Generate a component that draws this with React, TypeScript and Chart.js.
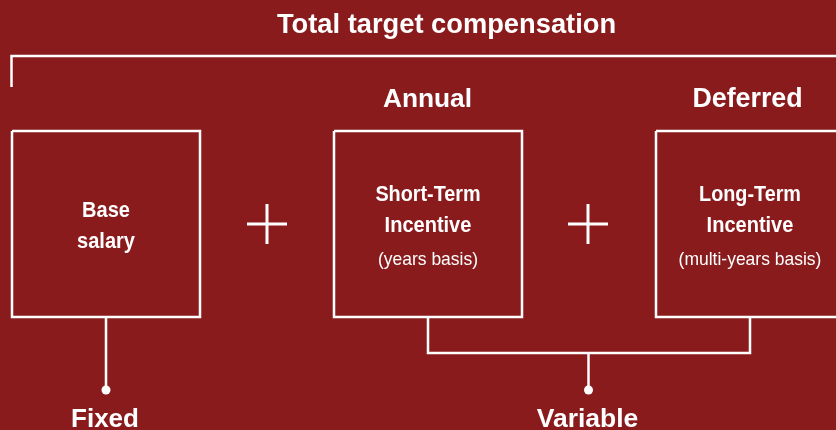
import React, { useEffect, useRef } from "react";
import { Chart, registerables } from "chart.js";

Chart.register(...registerables);

// ---- content ----
const titleText = "Total target compensation";
const groupLabels = ["Annual", "Deferred"];
const boxTitles = [
  ["Base", "salary"],
  ["Short-Term", "Incentive"],
  ["Long-Term", "Incentive"],
];
const boxSubtitles = ["", "(years basis)", "(multi-years basis)"];
const bottomLabels = ["Fixed", "Variable"];

// ---- geometry (diagram layout in scale units) ----
const W = 836;
const H = 430;
const BG = "#8a1b1d";
const FG = "#ffffff";
const boxLeft = [12, 334, 656];
const boxWidth = 188;
const boxTop = 131;
const boxBottom = 317;
const plusX = [267, 588];
const plusY = 224;
const bracketY = 56;
const bracketX = 11.5;
const bracketDrop = 87;
const branchY = 353;
const dotY = 390;
const variableX = 588.5;
const FONT = '"Liberation Sans", Arial, Helvetica, sans-serif';

const boxCenter = (i: number) => boxLeft[i] + boxWidth / 2;

const lineDs = (data: { x: number; y: number }[]) => ({
  data,
  showLine: true,
  borderColor: FG,
  borderWidth: 2.5,
  pointRadius: 0,
  fill: false,
  tension: 0,
  clip: false,
  borderJoinStyle: "miter" as const,
  borderCapStyle: "butt" as const,
});

const textPlugin = {
  id: "diagramText",
  beforeDraw(chart: any) {
    const { ctx } = chart;
    ctx.save();
    ctx.fillStyle = BG;
    ctx.fillRect(0, 0, chart.width, chart.height);
    ctx.restore();
  },
  afterDatasetsDraw(chart: any) {
    const { ctx } = chart;
    const xs = chart.scales.x;
    const ys = chart.scales.y;
    const put = (
      t: string,
      x: number,
      y: number,
      size: number,
      bold: boolean,
      sx = 1
    ) => {
      ctx.save();
      ctx.translate(xs.getPixelForValue(x), ys.getPixelForValue(y));
      ctx.scale(sx, 1);
      ctx.font = `${bold ? "bold " : ""}${size}px ${FONT}`;
      ctx.fillStyle = FG;
      ctx.textAlign = "center";
      ctx.textBaseline = "alphabetic";
      ctx.fillText(t, 0, 0);
      ctx.restore();
    };
    put(titleText, 446.5, 33, 27.3, true);
    put(groupLabels[0], 427.5, 106.5, 26.3, true);
    put(groupLabels[1], 747.5, 106.5, 26.8, true);
    // box 1
    put(boxTitles[0][0], boxCenter(0), 217, 22, true, 0.91);
    put(boxTitles[0][1], boxCenter(0), 248, 22, true, 0.91);
    for (let i = 1; i < 3; i++) {
      put(boxTitles[i][0], boxCenter(i), 201, 22, true, 0.9);
      put(boxTitles[i][1], boxCenter(i), 232, 22, true, 0.91);
      put(boxSubtitles[i], boxCenter(i), 265, 19, false, 0.92);
    }
    put(bottomLabels[0], 105, 427, 26, true);
    put(bottomLabels[1], 587.5, 427, 26.5, true);
  },
};

export default function App() {
  const ref = useRef<HTMLCanvasElement>(null);

  useEffect(() => {
    if (!ref.current) return;
    const boxes = boxLeft.map((l) =>
      lineDs([
        { x: l, y: boxTop },
        { x: l + boxWidth, y: boxTop },
        { x: l + boxWidth, y: boxBottom },
        { x: l, y: boxBottom },
        { x: l, y: boxTop },
      ])
    );
    const bracket = lineDs([
      { x: bracketX, y: bracketDrop },
      { x: bracketX, y: bracketY },
      { x: W + 5, y: bracketY },
    ]);
    const fixedLine = lineDs([
      { x: boxCenter(0), y: boxBottom },
      { x: boxCenter(0), y: dotY },
    ]);
    const branch = lineDs([
      { x: boxCenter(1), y: boxBottom },
      { x: boxCenter(1), y: branchY },
      { x: boxCenter(2), y: branchY },
      { x: boxCenter(2), y: boxBottom },
    ]);
    const variableLine = lineDs([
      { x: variableX, y: branchY },
      { x: variableX, y: dotY },
    ]);
    const dots = {
      data: [
        { x: boxCenter(0), y: dotY },
        { x: variableX, y: dotY },
      ],
      showLine: false,
      clip: false,
      pointRadius: 4.5,
      pointBackgroundColor: FG,
      pointBorderColor: FG,
      pointBorderWidth: 0,
    };
    const plus = {
      data: plusX.map((x) => ({ x, y: plusY })),
      showLine: false,
      clip: false,
      pointStyle: "cross" as const,
      pointRadius: 20,
      pointBorderColor: FG,
      pointBorderWidth: 3,
    };

    const chart = new Chart(ref.current, {
      type: "scatter",
      data: {
        datasets: [
          ...boxes,
          bracket,
          fixedLine,
          branch,
          variableLine,
          dots,
          plus,
        ] as any,
      },
      options: {
        animation: false,
        responsive: false,
        events: [],
        layout: { padding: 0, autoPadding: false },
        plugins: {
          legend: { display: false },
          tooltip: { enabled: false },
          title: { display: false },
        },
        scales: {
          x: { type: "linear", min: 0, max: W, display: false },
          y: { type: "linear", min: 0, max: H, reverse: true, display: false },
        },
      },
      plugins: [textPlugin],
    });
    return () => chart.destroy();
  }, []);

  return (
    <div
      style={{
        position: "fixed",
        left: 0,
        top: 0,
        width: W,
        height: H,
        background: BG,
      }}
    >
      <canvas ref={ref} width={W} height={H} style={{ display: "block" }} />
    </div>
  );
}
